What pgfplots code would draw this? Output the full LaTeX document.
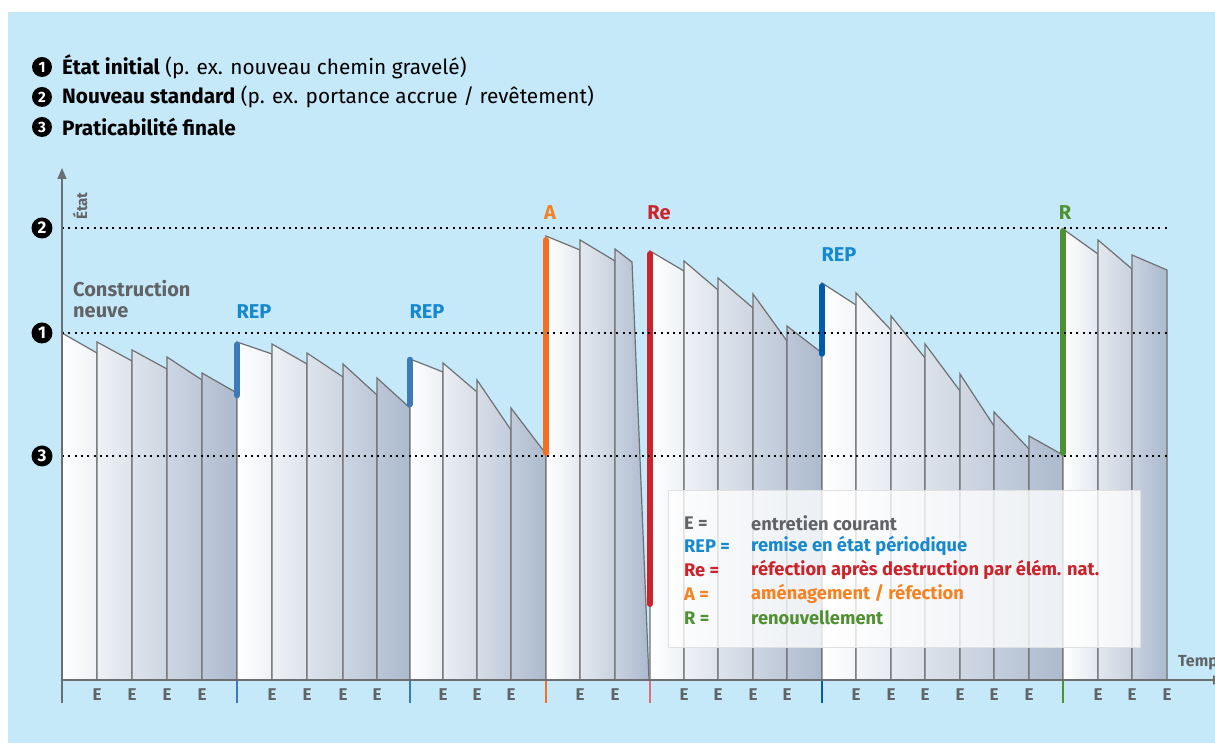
\documentclass[border=0pt]{standalone}
\usepackage{pgfplots}
\pgfplotsset{compat=1.18}
\usetikzlibrary{arrows.meta}
\usepackage{fontspec}
\setmainfont{Fira Sans}
\definecolor{bgc}{RGB}{197,233,249}
\definecolor{endc}{RGB}{172,186,206}
\definecolor{edge}{RGB}{112,112,114}
\definecolor{axg}{RGB}{109,110,113}
\definecolor{txtg}{RGB}{98,99,102}
\definecolor{repb}{RGB}{22,136,206}
\definecolor{repl}{RGB}{61,122,185}
\definecolor{repd}{RGB}{0,92,169}
\definecolor{orA}{RGB}{242,112,34}
\definecolor{orT}{RGB}{245,130,32}
\definecolor{redR}{RGB}{204,34,41}
\definecolor{grR}{RGB}{79,145,50}
\pgfdeclarelayer{bglayer}
\pgfsetlayers{bglayer,main}
\pgfplotsset{br/.style={draw=edge, line width=1.2pt}}
\newcommand{\fs}[1]{\fontsize{#1}{#1}\selectfont}
\begin{document}
\begin{tikzpicture}
\begin{axis}[
  x=1pt, y=1pt,
  xmin=62, xmax=1224, ymin=0, ymax=512,
  axis lines=left,
  axis on top,
  clip=false,
  axis line style={draw=axg, line width=1.5pt, -{Triangle[length=11pt,width=9pt]}},
  major tick length=0pt,
  xtick={97,132,167,202,272,307,343,377,443,477,511,580,615,684,718,753,787,856,891,925,960,994,1029,1098,1132,1167},
  xticklabel={\textbf{E}},
  xticklabel style={anchor=center, yshift=-15pt, text=txtg, font=\fs{17}},
  ytick={224,347,452},
  yticklabels={\textbf{3},\textbf{1},\textbf{2}},
  yticklabel style={anchor=center, xshift=-20pt, circle, fill=black, text=white, inner sep=0pt, minimum size=21pt, font=\fs{17}},
]
% page corners
\coordinate (pgSW) at (axis cs:0,-63);
\coordinate (pgNE) at (axis cs:1215,680);
\coordinate (bgSW) at (axis cs:8,-63);
\coordinate (bgNE) at (axis cs:1215,668);

% ---- segment 1
\addplot[br, left color=endc!0!white, right color=endc!20!white] coordinates {(62,0)(62,347)(97,327)(97,0)} -- cycle;
\addplot[br, left color=endc!20!white, right color=endc!40!white] coordinates {(97,0)(97,338)(132,319)(132,0)} -- cycle;
\addplot[br, left color=endc!40!white, right color=endc!60!white] coordinates {(132,0)(132,330)(167,311)(167,0)} -- cycle;
\addplot[br, left color=endc!60!white, right color=endc!80!white] coordinates {(167,0)(167,323)(202,300)(202,0)} -- cycle;
\addplot[br, left color=endc!80!white, right color=endc!100!white] coordinates {(202,0)(202,307)(237,287)(237,0)} -- cycle;
% ---- segment 2
\addplot[br, left color=endc!0!white, right color=endc!20!white] coordinates {(237,0)(237,338)(272,326)(272,0)} -- cycle;
\addplot[br, left color=endc!20!white, right color=endc!40!white] coordinates {(272,0)(272,336)(307,316)(307,0)} -- cycle;
\addplot[br, left color=endc!40!white, right color=endc!61!white] coordinates {(307,0)(307,327)(343,303)(343,0)} -- cycle;
\addplot[br, left color=endc!61!white, right color=endc!81!white] coordinates {(343,0)(343,316)(377,285)(377,0)} -- cycle;
\addplot[br, left color=endc!81!white, right color=endc!100!white] coordinates {(377,0)(377,302)(410,272)(410,0)} -- cycle;
% ---- segment 3
\addplot[br, left color=endc!0!white, right color=endc!24!white] coordinates {(410,0)(410,321)(443,308)(443,0)} -- cycle;
\addplot[br, left color=endc!24!white, right color=endc!49!white] coordinates {(443,0)(443,317)(477,288)(477,0)} -- cycle;
\addplot[br, left color=endc!49!white, right color=endc!74!white] coordinates {(477,0)(477,300)(511,250)(511,0)} -- cycle;
\addplot[br, left color=endc!74!white, right color=endc!100!white] coordinates {(511,0)(511,272)(546,226)(546,0)} -- cycle;
% ---- segment 4
\addplot[br, left color=endc!0!white, right color=endc!33!white] coordinates {(546,0)(546,444)(580,430)(580,0)} -- cycle;
\addplot[br, left color=endc!33!white, right color=endc!66!white] coordinates {(580,0)(580,440)(615,419)(615,0)} -- cycle;
\addplot[br, left color=endc!66!white, right color=endc!100!white] coordinates {(615,0)(615,431)(632,418)(649,0)} -- cycle;
% ---- segment 5
\addplot[br, left color=endc!0!white, right color=endc!20!white] coordinates {(650,0)(650,429)(684,409)(684,0)} -- cycle;
\addplot[br, left color=endc!20!white, right color=endc!40!white] coordinates {(684,0)(684,419)(718,390)(718,0)} -- cycle;
\addplot[br, left color=endc!40!white, right color=endc!60!white] coordinates {(718,0)(718,402)(753,372)(753,0)} -- cycle;
\addplot[br, left color=endc!60!white, right color=endc!80!white] coordinates {(753,0)(753,386)(787,339)(787,0)} -- cycle;
\addplot[br, left color=endc!80!white, right color=endc!100!white] coordinates {(787,0)(787,354)(822,327)(822,0)} -- cycle;
% ---- segment 6
\addplot[br, left color=endc!0!white, right color=endc!14!white] coordinates {(822,0)(822,397)(856,375)(856,0)} -- cycle;
\addplot[br, left color=endc!14!white, right color=endc!29!white] coordinates {(856,0)(856,387)(891,350)(891,0)} -- cycle;
\addplot[br, left color=endc!29!white, right color=endc!43!white] coordinates {(891,0)(891,364)(925,322)(925,0)} -- cycle;
\addplot[br, left color=endc!43!white, right color=endc!57!white] coordinates {(925,0)(925,336)(960,289)(960,0)} -- cycle;
\addplot[br, left color=endc!57!white, right color=endc!71!white] coordinates {(960,0)(960,306)(994,254)(994,0)} -- cycle;
\addplot[br, left color=endc!71!white, right color=endc!86!white] coordinates {(994,0)(994,268)(1029,231)(1029,0)} -- cycle;
\addplot[br, left color=endc!86!white, right color=endc!100!white] coordinates {(1029,0)(1029,244)(1063,225)(1063,0)} -- cycle;
% ---- segment 7
\addplot[br, left color=endc!0!white, right color=endc!34!white] coordinates {(1063,0)(1063,451)(1098,426)(1098,0)} -- cycle;
\addplot[br, left color=endc!34!white, right color=endc!66!white] coordinates {(1098,0)(1098,440)(1132,411)(1132,0)} -- cycle;
\addplot[br, left color=endc!66!white, right color=endc!100!white] coordinates {(1132,0)(1132,425)(1167,410)(1167,0)} -- cycle;

% ---- intervention lines
\addplot[repl, line width=5.5pt, line cap=round] coordinates {(237,335.5)(237,284.5)};
\addplot[repl, line width=5.5pt, line cap=round] coordinates {(410,320.5)(410,275.5)};
\addplot[orA, line width=6pt, line cap=round] coordinates {(546,440)(546,227)};
\addplot[redR, line width=6pt, line cap=round] coordinates {(650,426)(650,76)};
\addplot[repd, line width=5.5pt, line cap=round] coordinates {(822,394)(822,326)};
\addplot[grR, line width=6pt, line cap=round] coordinates {(1063,449)(1063,227)};

% ---- boundary ticks below axis
\addplot[axg, line width=1.5pt] coordinates {(62,0)(62,-23)};
\addplot[repl, line width=1.5pt] coordinates {(237,0)(237,-23)};
\addplot[repl, line width=1.5pt] coordinates {(410,0)(410,-23)};
\addplot[orA, line width=1.5pt] coordinates {(546,0)(546,-23)};
\addplot[redR!65!white, line width=1.5pt] coordinates {(650,0)(650,-23)};
\addplot[repd, line width=1.5pt] coordinates {(822,0)(822,-23)};
\addplot[grR, line width=1.5pt] coordinates {(1063,0)(1063,-23)};

% ---- level lines
\addplot[black, line width=2pt, dash pattern=on 2pt off 4.3pt] coordinates {(62,452)(1168,452)};
\addplot[black, line width=2pt, dash pattern=on 2pt off 4.3pt] coordinates {(62,347)(1168,347)};
\addplot[black, line width=2pt, dash pattern=on 2pt off 4.3pt] coordinates {(62,224)(1168,224)};

% ---- legend box
\filldraw[fill=white, fill opacity=0.78, draw=black!12, line width=0.8pt] (axis cs:668,190) rectangle (axis cs:1140,33);
\begin{scope}[every node/.style={anchor=west, inner sep=0pt, font=\fs{18.3}\bfseries}]
\node[text=txtg] at (axis cs:684,157) {E =};
\node[text=txtg] at (axis cs:751,157) {entretien courant};
\node[text=repb] at (axis cs:684,134) {REP =};
\node[text=repb] at (axis cs:751,134) {remise en état périodique};
\node[text=redR] at (axis cs:684,110) {Re =};
\node[text=redR] at (axis cs:751,110) {réfection après destruction par élém. nat.};
\node[text=orT] at (axis cs:684,86) {A =};
\node[text=orT] at (axis cs:751,86) {aménagement / réfection};
\node[text=grR] at (axis cs:684,62) {R =};
\node[text=grR] at (axis cs:751,62) {renouvellement};
\end{scope}

% ---- labels
\begin{scope}[every node/.style={inner sep=0pt, font=\fs{20}\bfseries}]
\node[text=repb] at (axis cs:254,368) {REP};
\node[text=repb] at (axis cs:427,368) {REP};
\node[text=repb] at (axis cs:839,425) {REP};
\node[text=orT] at (axis cs:550,467) {A};
\node[text=redR] at (axis cs:659,467) {Re};
\node[text=grR] at (axis cs:1065,467) {R};
\node[text=txtg, anchor=west] at (axis cs:73,391) {Construction};
\node[text=txtg, anchor=west] at (axis cs:73,368) {neuve};
\end{scope}
\node[rotate=90, inner sep=0pt, text=txtg, font=\fs{15}\bfseries] at (axis cs:80,474) {État};
\node[anchor=west, inner sep=0pt, text=txtg, font=\fs{16}\bfseries] at (axis cs:1178,17) {Temps};

% ---- header
\begin{scope}[every node/.style={anchor=west, inner sep=0pt, font=\fs{20.8}}]
\node at (axis cs:62,613) {\textbf{État initial} (p. ex. nouveau chemin gravelé)};
\node at (axis cs:62,583) {\textbf{Nouveau standard} (p. ex. portance accrue / revêtement)};
\node at (axis cs:62,553) {\textbf{Praticabilité finale}};
\end{scope}
\begin{scope}[every node/.style={circle, fill=black, text=white, inner sep=0pt, minimum size=20pt, font=\fs{15}\bfseries}]
\node at (axis cs:42,613) {1};
\node at (axis cs:42,583) {2};
\node at (axis cs:42,553) {3};
\end{scope}
\end{axis}
\begin{pgfonlayer}{bglayer}
\fill[white] (pgSW) rectangle (pgNE);
\fill[bgc] (bgSW) rectangle (bgNE);
\end{pgfonlayer}
\pgfresetboundingbox
\path[use as bounding box] (pgSW) rectangle (pgNE);
\end{tikzpicture}
\end{document}
